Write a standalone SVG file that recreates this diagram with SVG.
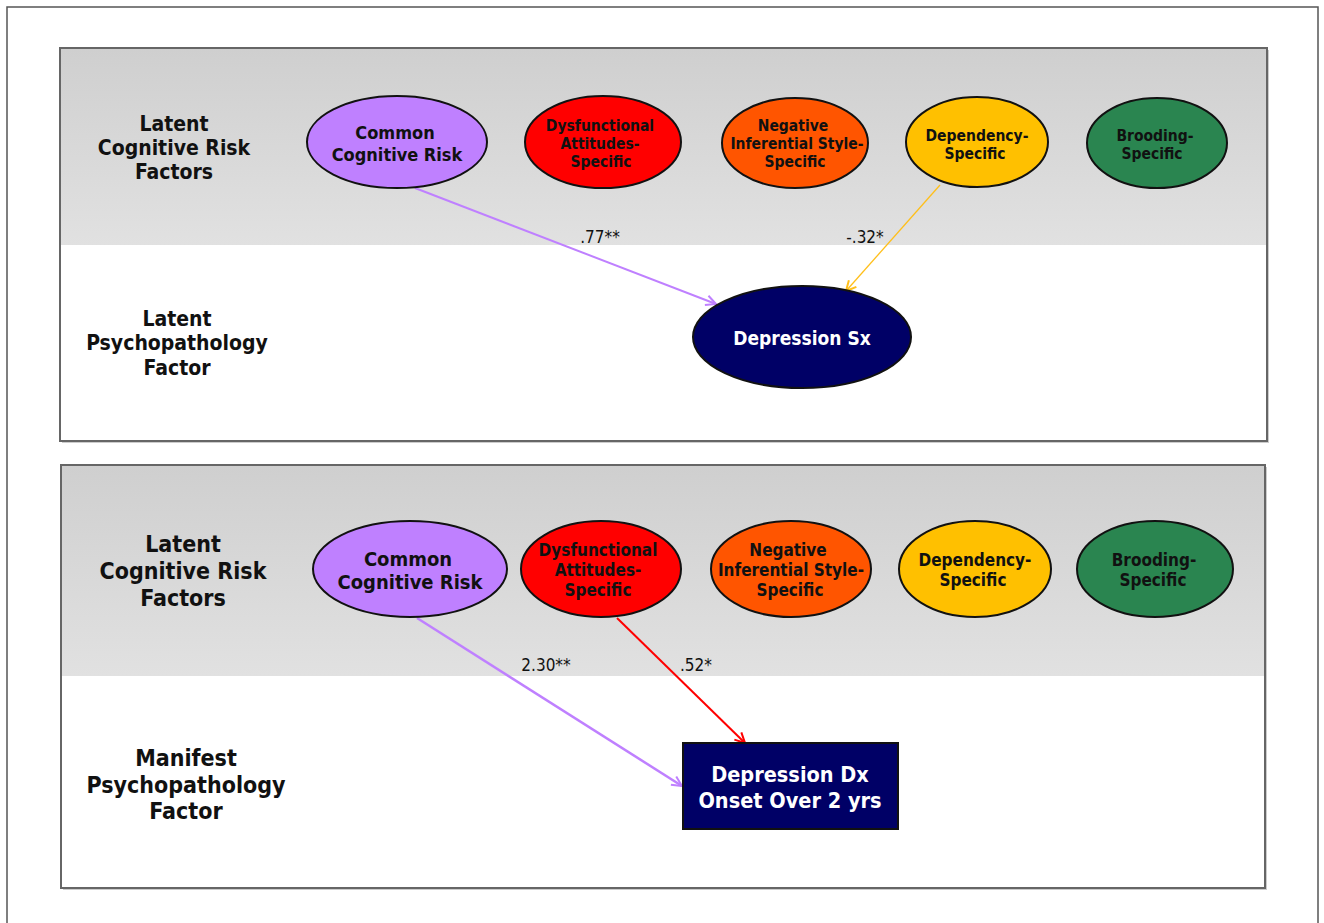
<svg xmlns="http://www.w3.org/2000/svg" width="1324" height="923" viewBox="0 0 1324 923">
<defs>
<linearGradient id="gband" x1="0" y1="0" x2="0" y2="1">
<stop offset="0" stop-color="#cfcfcf"/>
<stop offset="1" stop-color="#e1e1e1"/>
</linearGradient>
<marker id="ah-purple" viewBox="0 0 12 12" refX="11" refY="6" markerWidth="12" markerHeight="12" markerUnits="userSpaceOnUse" orient="auto">
<path d="M1,1 L11,6 L1,11" fill="none" stroke="#bf80ff" stroke-width="2"/>
</marker>
<marker id="ah-yellow" viewBox="0 0 12 12" refX="11" refY="6" markerWidth="12" markerHeight="12" markerUnits="userSpaceOnUse" orient="auto">
<path d="M1,1 L11,6 L1,11" fill="none" stroke="#ffbf1a" stroke-width="2"/>
</marker>
<marker id="ah-red" viewBox="0 0 12 12" refX="11" refY="6" markerWidth="12" markerHeight="12" markerUnits="userSpaceOnUse" orient="auto">
<path d="M1,1 L11,6 L1,11" fill="none" stroke="#ff0000" stroke-width="2"/>
</marker>
</defs>
<style>
text{font-family:"DejaVu Sans Condensed","DejaVu Sans","Liberation Sans",sans-serif;font-stretch:condensed;font-weight:bold;text-anchor:middle}
.side{font-size:21px;fill:#111}
.side2{font-size:23px;fill:#111}
.n{stroke:#111;stroke-width:2}
.lbl{font-size:15.5px;fill:#111}
.lbl2{font-size:18px;fill:#111}
.lb{font-size:17px;fill:#111}
.coef{font-size:17px;font-weight:normal;fill:#111}
.panel{fill:#fff;stroke:#666;stroke-width:2}
</style>
<rect x="0" y="0" width="1324" height="923" fill="#fff"/>
<rect x="7" y="7" width="1311" height="930" fill="#fff" stroke="#555" stroke-width="1.5"/>

<!-- top panel -->
<g id="panel-top">
<rect x="62" y="50" width="1207" height="393" fill="#999" opacity="0.5"/>
<rect class="panel" x="60" y="48" width="1207" height="393"/>
<rect x="61" y="49" width="1205" height="196" fill="url(#gband)"/>
<text class="side" x="174" y="131">Latent</text>
<text class="side" x="174" y="155">Cognitive Risk</text>
<text class="side" x="174" y="179">Factors</text>
<text class="side" x="177" y="326">Latent</text>
<text class="side" x="177" y="350">Psychopathology</text>
<text class="side" x="177" y="375">Factor</text>
</g>

<!-- bottom panel -->
<g id="panel-bottom">
<rect x="63" y="467" width="1204" height="423" fill="#999" opacity="0.5"/>
<rect class="panel" x="61" y="465" width="1204" height="423"/>
<rect x="62" y="466" width="1202" height="210" fill="url(#gband)"/>
<text class="side2" x="183" y="552">Latent</text>
<text class="side2" x="183" y="579">Cognitive Risk</text>
<text class="side2" x="183" y="606">Factors</text>
<text class="side2" x="186" y="766">Manifest</text>
<text class="side2" x="186" y="793">Psychopathology</text>
<text class="side2" x="186" y="819">Factor</text>
</g>

<!-- connectors -->
<g id="connectors">
<line x1="415" y1="188" x2="716" y2="304" stroke="#bf80ff" stroke-width="2" marker-end="url(#ah-purple)"/>
<line x1="940" y1="185" x2="846" y2="291" stroke="#ffbf1a" stroke-width="1.3" marker-end="url(#ah-yellow)"/>
<text class="coef" x="600" y="243">.77**</text>
<text class="coef" x="865" y="243">-.32*</text>
<line x1="417" y1="618" x2="682" y2="786" stroke="#bf80ff" stroke-width="2.5" marker-end="url(#ah-purple)"/>
<line x1="617" y1="618" x2="745" y2="743" stroke="#ff0000" stroke-width="2" marker-end="url(#ah-red)"/>
<text class="coef" x="546" y="671">2.30**</text>
<text class="coef" x="696" y="671">.52*</text>
</g>

<!-- top nodes -->
<g id="t-common">
<ellipse class="n" cx="397" cy="142" rx="90" ry="46" fill="#bf80ff"/>
<text class="lbl2" x="395" y="139">Common</text>
<text class="lbl2" x="397" y="161">Cognitive Risk</text>
</g>
<g id="t-dysfunctional">
<ellipse class="n" cx="603" cy="142" rx="78" ry="46" fill="#ff0000"/>
<text class="lbl" x="600" y="131">Dysfunctional</text>
<text class="lbl" x="600" y="149">Attitudes-</text>
<text class="lbl" x="601" y="167">Specific</text>
</g>
<g id="t-negative">
<ellipse class="n" cx="795" cy="143" rx="73" ry="45" fill="#ff5500"/>
<text class="lbl" x="793" y="131">Negative</text>
<text class="lbl" x="797" y="149">Inferential Style-</text>
<text class="lbl" x="795" y="167">Specific</text>
</g>
<g id="t-dependency">
<ellipse class="n" cx="977" cy="142" rx="71" ry="45" fill="#ffc000"/>
<text class="lbl" x="977" y="141">Dependency-</text>
<text class="lbl" x="975" y="159">Specific</text>
</g>
<g id="t-brooding">
<ellipse class="n" cx="1157" cy="143" rx="70" ry="45" fill="#2a8550"/>
<text class="lbl" x="1155" y="141">Brooding-</text>
<text class="lbl" x="1152" y="159">Specific</text>
</g>
<g id="t-depression">
<ellipse class="n" cx="802" cy="337" rx="109" ry="51" fill="#000066"/>
<text x="802" y="345" style="font-size:19px;fill:#fff">Depression Sx</text>
</g>

<!-- bottom nodes -->
<g id="b-common">
<ellipse class="n" cx="410" cy="569" rx="97" ry="48" fill="#bf80ff"/>
<text x="408" y="566" style="font-size:20px;fill:#111">Common</text>
<text x="410" y="589" style="font-size:20px;fill:#111">Cognitive Risk</text>
</g>
<g id="b-dysfunctional">
<ellipse class="n" cx="601" cy="569" rx="80" ry="48" fill="#ff0000"/>
<text class="lb" x="598" y="556">Dysfunctional</text>
<text class="lb" x="598" y="576">Attitudes-</text>
<text class="lb" x="598" y="596">Specific</text>
</g>
<g id="b-negative">
<ellipse class="n" cx="791" cy="569" rx="80" ry="48" fill="#ff5500"/>
<text class="lb" x="788" y="556">Negative</text>
<text class="lb" x="791" y="576">Inferential Style-</text>
<text class="lb" x="790" y="596">Specific</text>
</g>
<g id="b-dependency">
<ellipse class="n" cx="975" cy="569" rx="76" ry="48" fill="#ffc000"/>
<text class="lb" x="975" y="566">Dependency-</text>
<text class="lb" x="973" y="586">Specific</text>
</g>
<g id="b-brooding">
<ellipse class="n" cx="1155" cy="569" rx="78" ry="48" fill="#2a8550"/>
<text class="lb" x="1154" y="566">Brooding-</text>
<text class="lb" x="1153" y="586">Specific</text>
</g>
<g id="b-depression">
<rect x="683" y="743" width="215" height="86" fill="#000066" stroke="#111" stroke-width="2"/>
<text x="790" y="782" style="font-size:21.5px;fill:#fff">Depression Dx</text>
<text x="790" y="808" style="font-size:21.5px;fill:#fff">Onset Over 2 yrs</text>
</g>
</svg>
